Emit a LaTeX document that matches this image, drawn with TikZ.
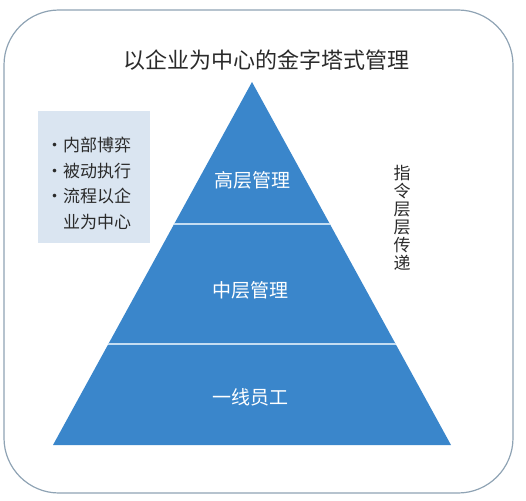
\documentclass[tikz,border=0pt]{standalone}
\usepackage{fontspec}
\setmainfont{Noto Sans CJK SC}
\usetikzlibrary{calc}
\definecolor{pyrblue}{HTML}{3A86CB}
\definecolor{boxblue}{HTML}{DAE5F1}
\definecolor{framegray}{HTML}{8FA3B4}
\definecolor{sepblue}{HTML}{C4DDF2}
\definecolor{inkgray}{HTML}{2A2A2A}

\begin{document}
\begin{tikzpicture}[x=1pt, y=-1pt,
  layer/.style={text=white, font=\fontsize{19}{19}\selectfont},
  notes/.style={text=inkgray, font=\fontsize{17}{25.7}\selectfont, align=left, inner sep=0pt}]
  \useasboundingbox (0,0) rectangle (526,500);
  % Frame
  \draw[framegray, line width=1.2pt, rounded corners=55pt] (4,10) rectangle (513,493);

  % Nodes
  \node[text=inkgray, font=\fontsize{22}{22}\selectfont] (title) at (266,60) {以企业为中心的金字塔式管理};
  \node[fill=boxblue, minimum width=112pt, minimum height=132pt] (box) at (94,177) {};
  \node[notes, anchor=west] (pts) at (46,183.5) {·\hspace{0pt}内部博弈\\·\hspace{0pt}被动执行\\·\hspace{0pt}流程以企\\\phantom{·}\hspace{0pt}业为中心};

  % Pyramid
  \coordinate (apex) at (252,82);
  \coordinate (bl) at (53,445);
  \coordinate (br) at (451,445);
  \fill[pyrblue] (apex) -- (bl) -- (br) -- cycle;
  \coordinate (l1) at ($(apex)!0.391!(bl)$);
  \coordinate (r1) at ($(apex)!0.391!(br)$);
  \coordinate (l2) at ($(apex)!0.722!(bl)$);
  \coordinate (r2) at ($(apex)!0.722!(br)$);
  \draw[sepblue, line width=1.5pt] (l1) -- (r1);
  \draw[sepblue, line width=1.5pt] (l2) -- (r2);

  \node[layer] (top) at (252,180) {高层管理};
  \node[layer] (mid) at (250,290) {中层管理};
  \node[layer] (base) at (250,397) {一线员工};

  \node[text=inkgray, font=\fontsize{17}{18}\selectfont, align=center] (cmd) at (402,218) {指\\令\\层\\层\\传\\递};
\end{tikzpicture}
\end{document}
